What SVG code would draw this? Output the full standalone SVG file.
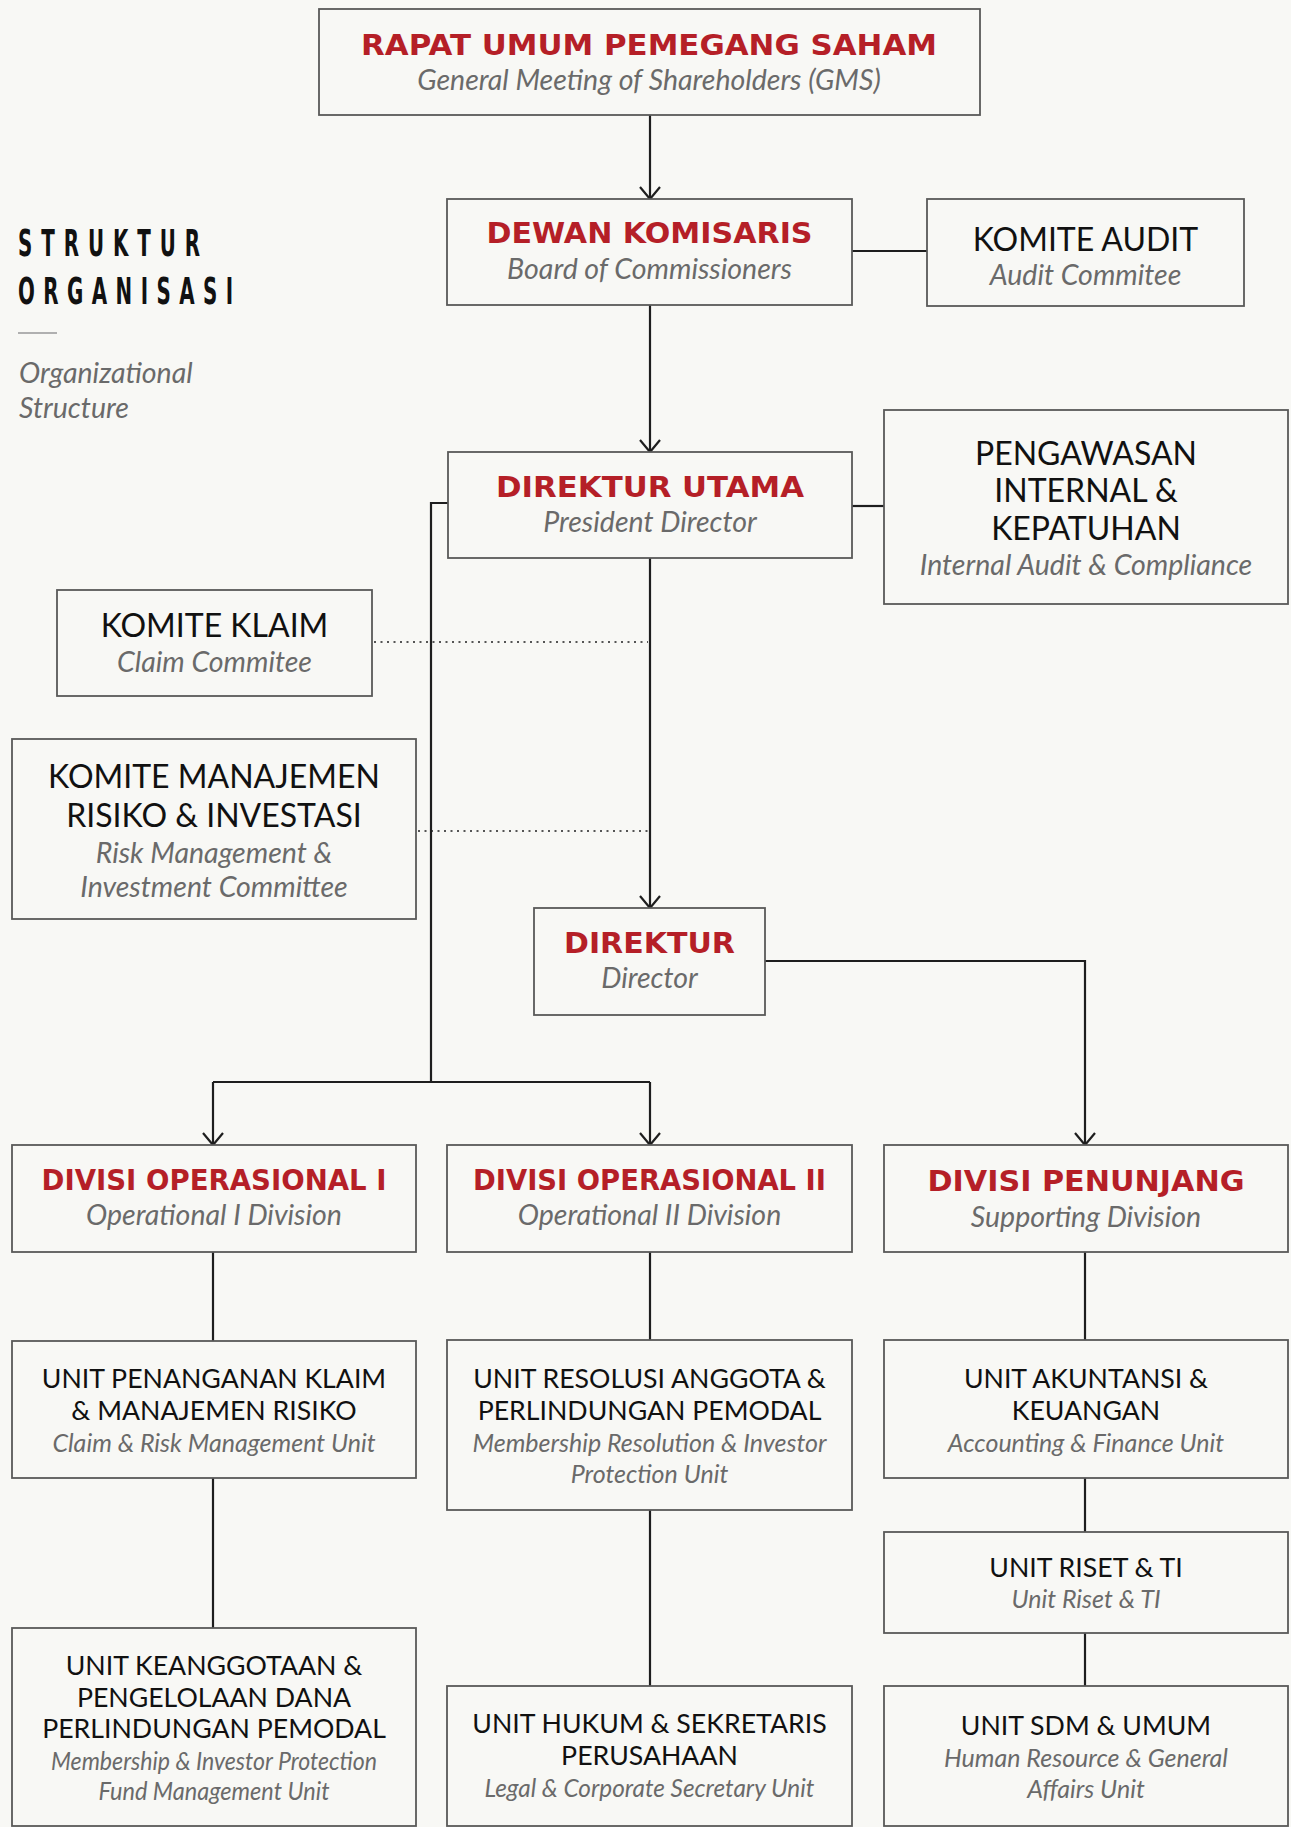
<svg xmlns="http://www.w3.org/2000/svg" width="1291" height="1827" viewBox="0 0 1291 1827">
<defs>
<marker id="arr" viewBox="-14 -12 16 24" markerWidth="16" markerHeight="24" refX="0" refY="0" orient="auto" markerUnits="userSpaceOnUse">
<path d="M-12,-10 L0,0 L-12,10" fill="none" stroke="#1e1e1e" stroke-width="2.2"/>
</marker>
</defs>
<style>
.box{fill:#f8f8f5;stroke:#595959;stroke-width:1.8}
.red{font-family:"DejaVu Sans",sans-serif;font-weight:bold;fill:#b51f27;text-anchor:middle;font-size:29px}
.blk{font-family:Lato,"Liberation Sans",sans-serif;fill:#111;text-anchor:middle;font-size:32px}
.blk2{font-family:Lato,"Liberation Sans",sans-serif;fill:#111;text-anchor:middle;font-size:26.7px}
.sub{font-family:Lato,"Liberation Sans",sans-serif;font-style:italic;fill:#6a6a6a;text-anchor:middle;font-size:28.5px}
.sub2{font-family:Lato,"Liberation Sans",sans-serif;font-style:italic;fill:#6a6a6a;text-anchor:middle;font-size:25px}
.ln{fill:none;stroke:#1e1e1e;stroke-width:2.2}
.dot{fill:none;stroke:#555;stroke-width:2;stroke-dasharray:2 4.5}
.head{font-family:"DejaVu Sans Condensed","DejaVu Sans",sans-serif;font-weight:bold;fill:#111;font-size:38px}
.org{font-family:Lato,"Liberation Sans",sans-serif;font-style:italic;font-size:28.5px;fill:#6a6a6a}
</style>
<rect x="0" y="0" width="1291" height="1827" fill="#f8f8f5"/>

<g id="heading">
<g transform="translate(18,256) scale(0.58,1)"><text class="head" x="0" y="0" textLength="314" lengthAdjust="spacing">STRUKTUR</text></g>
<g transform="translate(18,304) scale(0.58,1)"><text class="head" x="0" y="0" textLength="371" lengthAdjust="spacing">ORGANISASI</text></g>
<line x1="18" y1="333" x2="57" y2="333" stroke="#999" stroke-width="1.5"/>
<text class="org" x="19" y="383">Organizational</text>
<text class="org" x="19" y="418">Structure</text>
</g>

<g id="connectors">
<path class="ln" d="M650,114 V199" marker-end="url(#arr)"/>
<path class="ln" d="M852,251 H927"/>
<path class="ln" d="M650,305 V452" marker-end="url(#arr)"/>
<path class="ln" d="M852,506 H884"/>
<path class="ln" d="M650,558 V908" marker-end="url(#arr)"/>
<path class="dot" d="M374,642 H648"/>
<path class="dot" d="M418,831 H648"/>
<path class="ln" d="M448,503 H431 V1082"/>
<path class="ln" d="M213,1082 H650"/>
<path class="ln" d="M213,1082 V1145" marker-end="url(#arr)"/>
<path class="ln" d="M650,1082 V1145" marker-end="url(#arr)"/>
<path class="ln" d="M765,961 H1085 V1145" marker-end="url(#arr)"/>
<path class="ln" d="M213,1252 V1341"/>
<path class="ln" d="M213,1478 V1628"/>
<path class="ln" d="M650,1252 V1340"/>
<path class="ln" d="M650,1510 V1686"/>
<path class="ln" d="M1085,1252 V1340"/>
<path class="ln" d="M1085,1478 V1532"/>
<path class="ln" d="M1085,1633 V1686"/>
</g>

<g id="rups">
<rect class="box" x="319" y="9" width="661" height="106"/>
<text class="red" x="649" y="55" textLength="576" lengthAdjust="spacingAndGlyphs">RAPAT UMUM PEMEGANG SAHAM</text>
<text class="sub" x="649" y="90">General Meeting of Shareholders (GMS)</text>
</g>

<g id="dewan">
<rect class="box" x="447" y="199" width="405" height="106"/>
<text class="red" x="649.5" y="243" textLength="326" lengthAdjust="spacingAndGlyphs">DEWAN KOMISARIS</text>
<text class="sub" x="649.5" y="279">Board of Commissioners</text>
</g>

<g id="komite-audit">
<rect class="box" x="927" y="199" width="317" height="107"/>
<text class="blk" x="1085.5" y="251">KOMITE AUDIT</text>
<text class="sub" x="1085.5" y="285">Audit Commitee</text>
</g>

<g id="direktur-utama">
<rect class="box" x="448" y="452" width="404" height="106"/>
<text class="red" x="650" y="497" textLength="308" lengthAdjust="spacingAndGlyphs">DIREKTUR UTAMA</text>
<text class="sub" x="650" y="532">President Director</text>
</g>

<g id="pengawasan">
<rect class="box" x="884" y="410" width="404" height="194"/>
<text class="blk" x="1086" y="465">PENGAWASAN</text>
<text class="blk" x="1086" y="502">INTERNAL &amp;</text>
<text class="blk" x="1086" y="540">KEPATUHAN</text>
<text class="sub" x="1086" y="575">Internal Audit &amp; Compliance</text>
</g>

<g id="komite-klaim">
<rect class="box" x="57" y="590" width="315" height="106"/>
<text class="blk" x="214.5" y="637">KOMITE KLAIM</text>
<text class="sub" x="214.5" y="672">Claim Commitee</text>
</g>

<g id="komite-risiko">
<rect class="box" x="12" y="739" width="404" height="180"/>
<text class="blk" x="214" y="788">KOMITE MANAJEMEN</text>
<text class="blk" x="214" y="827">RISIKO &amp; INVESTASI</text>
<text class="sub" x="214" y="863">Risk Management &amp;</text>
<text class="sub" x="214" y="897">Investment Committee</text>
</g>

<g id="direktur">
<rect class="box" x="534" y="908" width="231" height="107"/>
<text class="red" x="649.5" y="953" textLength="171" lengthAdjust="spacingAndGlyphs">DIREKTUR</text>
<text class="sub" x="649.5" y="988">Director</text>
</g>

<g id="divisi-op1">
<rect class="box" x="12" y="1145" width="404" height="107"/>
<text class="red" x="214" y="1190" textLength="345" lengthAdjust="spacingAndGlyphs">DIVISI OPERASIONAL I</text>
<text class="sub" x="214" y="1225">Operational I Division</text>
</g>

<g id="divisi-op2">
<rect class="box" x="447" y="1145" width="405" height="107"/>
<text class="red" x="649.5" y="1190" textLength="353" lengthAdjust="spacingAndGlyphs">DIVISI OPERASIONAL II</text>
<text class="sub" x="649.5" y="1225">Operational II Division</text>
</g>

<g id="divisi-penunjang">
<rect class="box" x="884" y="1145" width="404" height="107"/>
<text class="red" x="1086" y="1191" textLength="317" lengthAdjust="spacingAndGlyphs">DIVISI PENUNJANG</text>
<text class="sub" x="1086" y="1227">Supporting Division</text>
</g>

<g id="unit-klaim">
<rect class="box" x="12" y="1341" width="404" height="137"/>
<text class="blk2" x="214" y="1388">UNIT PENANGANAN KLAIM</text>
<text class="blk2" x="214" y="1420">&amp; MANAJEMEN RISIKO</text>
<text class="sub2" x="214" y="1452">Claim &amp; Risk Management Unit</text>
</g>

<g id="unit-resolusi">
<rect class="box" x="447" y="1340" width="405" height="170"/>
<text class="blk2" x="649.5" y="1388">UNIT RESOLUSI ANGGOTA &amp;</text>
<text class="blk2" x="649.5" y="1420">PERLINDUNGAN PEMODAL</text>
<text class="sub2" x="649.5" y="1452">Membership Resolution &amp; Investor</text>
<text class="sub2" x="649.5" y="1483">Protection Unit</text>
</g>

<g id="unit-akuntansi">
<rect class="box" x="884" y="1340" width="404" height="138"/>
<text class="blk2" x="1086" y="1388">UNIT AKUNTANSI &amp;</text>
<text class="blk2" x="1086" y="1420">KEUANGAN</text>
<text class="sub2" x="1086" y="1452">Accounting &amp; Finance Unit</text>
</g>

<g id="unit-riset">
<rect class="box" x="884" y="1532" width="404" height="101"/>
<text class="blk2" x="1086" y="1577">UNIT RISET &amp; TI</text>
<text class="sub2" x="1086" y="1608">Unit Riset &amp; TI</text>
</g>

<g id="unit-keanggotaan">
<rect class="box" x="12" y="1628" width="404" height="198"/>
<text class="blk2" x="214" y="1675">UNIT KEANGGOTAAN &amp;</text>
<text class="blk2" x="214" y="1707">PENGELOLAAN DANA</text>
<text class="blk2" x="214" y="1738">PERLINDUNGAN PEMODAL</text>
<text class="sub2" x="214" y="1770" textLength="326" lengthAdjust="spacingAndGlyphs">Membership &amp; Investor Protection</text>
<text class="sub2" x="214" y="1800" textLength="231" lengthAdjust="spacingAndGlyphs">Fund Management Unit</text>
</g>

<g id="unit-hukum">
<rect class="box" x="447" y="1686" width="405" height="140"/>
<text class="blk2" x="649.5" y="1733">UNIT HUKUM &amp; SEKRETARIS</text>
<text class="blk2" x="649.5" y="1765">PERUSAHAAN</text>
<text class="sub2" x="649.5" y="1797" textLength="330" lengthAdjust="spacingAndGlyphs">Legal &amp; Corporate Secretary Unit</text>
</g>

<g id="unit-sdm">
<rect class="box" x="884" y="1686" width="404" height="140"/>
<text class="blk2" x="1086" y="1735">UNIT SDM &amp; UMUM</text>
<text class="sub2" x="1086" y="1767">Human Resource &amp; General</text>
<text class="sub2" x="1086" y="1798">Affairs Unit</text>
</g>
</svg>
